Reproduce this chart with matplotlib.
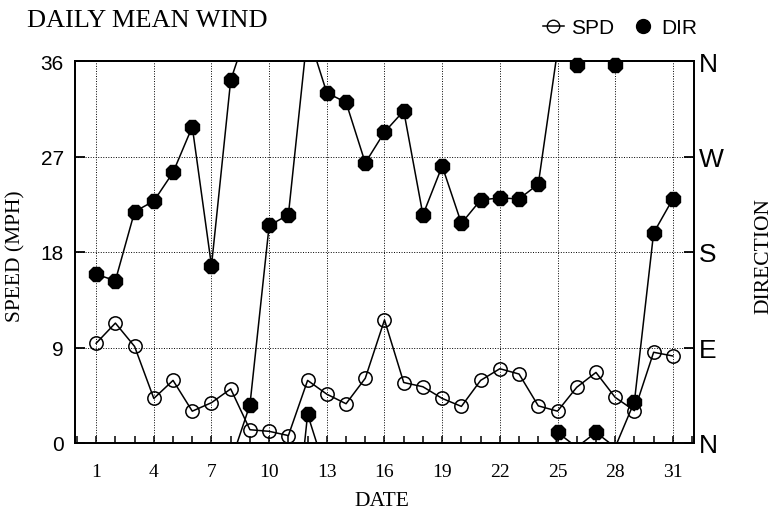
import numpy as np
import matplotlib
matplotlib.use("Agg")
import matplotlib.pyplot as plt
from matplotlib.lines import Line2D
from matplotlib.ticker import FixedLocator, MultipleLocator

# daily mean wind, one value per day of the month
days = list(range(1, 32))
spd_mph = [9.4, 11.3, 9.1, 4.2, 5.9, 3.0, 3.8, 5.1, 1.25, 1.1, 0.7, 5.9, 4.6, 3.7, 6.1, 11.6,
           5.7, 5.3, 4.2, 3.45, 5.9, 7.0, 6.5, 3.5, 3.0, 5.25, 6.65, 4.3, 3.05, 8.55, 8.2]
dir_deg = [159, 153, 218, 228, 255, 298, 167, 342, 36, 205, 215, 27, 330, 321, 264, 293,
           313, 215, 261, 207, 229, 231, 230, 244, 10, 356, 10, 356, 39, 198, 230]

date_ticks = [1, 4, 7, 10, 13, 16, 19, 22, 25, 28, 31]
speed_ticks = [0, 9, 18, 27, 36]
dir_ticks = [0, 90, 180, 270, 360]
dir_labels = ["N", "E", "S", "W", "N"]

SERIF = "Liberation Serif"
SANS = "Liberation Sans"


def wrapped_path(x, d):
    """Direction line that leaves through N and comes back on the other edge."""
    xs, ys = [x[0]], [d[0]]
    for i in range(1, len(x)):
        x0, y0, x1, y1 = x[i - 1], d[i - 1], x[i], d[i]
        if y1 - y0 > 180:
            xs += [x1, np.nan, x0, x1]
            ys += [y1 - 360, np.nan, y0 + 360, y1]
        elif y1 - y0 < -180:
            xs += [x1, np.nan, x0, x1]
            ys += [y1 + 360, np.nan, y0 - 360, y1]
        else:
            xs.append(x1)
            ys.append(y1)
    return np.array(xs, dtype=float), np.array(ys, dtype=float)


fig = plt.figure(figsize=(7.82, 5.1), dpi=100)
ax = fig.add_axes([75 / 782, 1 - 444 / 510, 619 / 782, 382 / 510])
ax2 = ax.twinx()

# speed: open circles with the line running through them
ax.plot(days, spd_mph, "-", color="black", lw=1.1, marker="o", ms=9.6,
        mfc="none", mec="black", mew=1.1, clip_on=False, zorder=3)

# direction: wrapped line + filled octagons
lx, ly = wrapped_path(days, dir_deg)
ax2.plot(lx, ly, "-", color="black", lw=1.1, zorder=2)
ax2.plot(days, dir_deg, "8", color="black", ms=11, clip_on=False, zorder=3)

ax.set_xlim(-0.1, 32.1)
ax.set_ylim(0, 36)
ax2.set_ylim(0, 360)

ax.xaxis.set_major_locator(FixedLocator(date_ticks))
ax.xaxis.set_minor_locator(MultipleLocator(1))
ax.set_xticklabels([str(t) for t in date_ticks], fontfamily=SERIF, fontsize=14)
ax.set_yticks(speed_ticks)
ax.set_yticklabels([str(t) for t in speed_ticks], fontfamily=SANS, fontsize=15)
ax2.set_yticks(dir_ticks)
ax2.set_yticklabels(dir_labels, fontfamily=SANS, fontsize=19)

ax.tick_params(axis="x", which="both", direction="in", length=5, width=1.1, pad=14.5)
ax.tick_params(axis="y", direction="in", length=7, width=1.3, pad=8)
ax2.tick_params(axis="y", direction="in", length=7, width=1.3, pad=3.5)

ax.grid(True, which="major", color="black", lw=0.7, linestyle=(0, (1, 1.6)))

for a in (ax, ax2):
    for sp in a.spines.values():
        sp.set_linewidth(1.3)

fig.text(27 / 782, 1 - 27 / 510, "DAILY MEAN WIND", fontfamily=SERIF, fontsize=19,
         ha="left", va="baseline")
fig.text(382 / 782, 1 - 506 / 510, "DATE", fontfamily=SERIF, fontsize=15.5,
         ha="center", va="baseline")
fig.text(16 / 782, 1 - 256 / 510, "SPEED (MPH)", fontfamily=SERIF, fontsize=15.5,
         rotation=90, ha="center", va="center")
fig.text(764 / 782, 1 - 256 / 510, "DIRECTION", fontfamily=SERIF, fontsize=15.5,
         rotation=90, ha="center", va="center")

handles = [
    Line2D([], [], color="black", lw=1.1, marker="o", ms=9, mfc="none", mec="black"),
    Line2D([], [], color="black", lw=0, marker="o", ms=10),
]
fig.legend(handles, ["SPD", "DIR"], loc="center right", bbox_to_anchor=(697 / 782, 1 - 29 / 510),
           ncol=2, frameon=False, prop={"family": SANS, "size": 15}, handlelength=1.0,
           handletextpad=0.35, columnspacing=0.9, borderpad=0, borderaxespad=0)

fig.savefig("out.png", dpi=100)
